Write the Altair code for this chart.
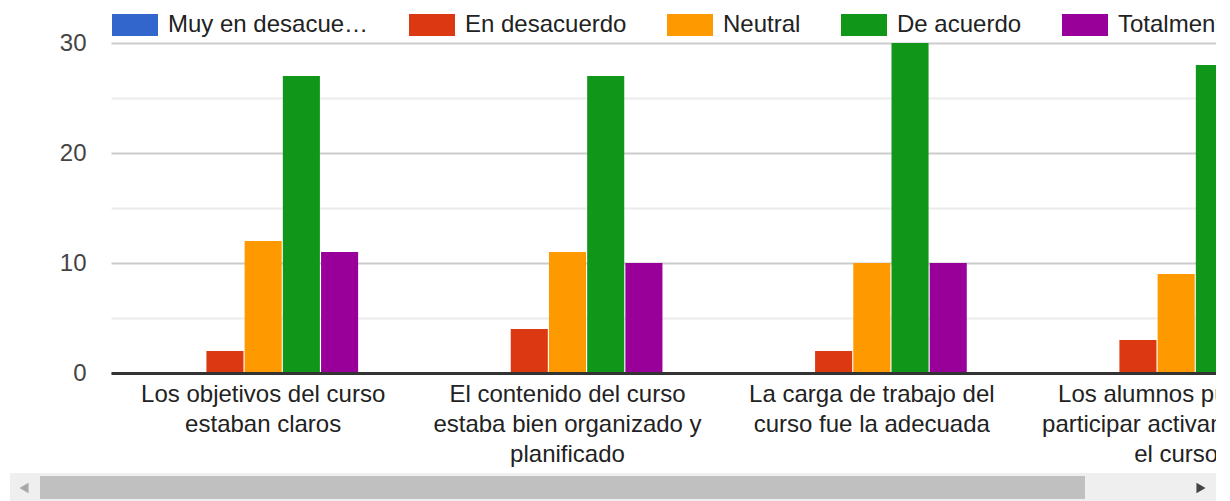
import json
import altair as alt
import pandas as pd

questions = [
    "Los objetivos del curso estaban claros",
    "El contenido del curso estaba bien organizado y planificado",
    "La carga de trabajo del curso fue la adecuada",
    "Los alumnos pudieron participar activamente en el curso",
]
question_lines = [
    ["Los objetivos del curso", "estaban claros"],
    ["El contenido del curso", "estaba bien organizado y", "planificado"],
    ["La carga de trabajo del", "curso fue la adecuada"],
    ["Los alumnos pudieron", "participar activamente en", "el curso"],
]
series = ["Muy en desacuerdo", "En desacuerdo", "Neutral", "De acuerdo", "Totalmente de acuerdo"]
colors = ["#3366cc", "#dc3912", "#ff9900", "#109618", "#990099"]

muy_en_desacuerdo = [0, 0, 0, 0]
en_desacuerdo = [2, 4, 2, 3]
neutral = [12, 11, 10, 9]
de_acuerdo = [27, 27, 30, 28]
totalmente_de_acuerdo = [11, 10, 10, 10]

y_ticks = [0, 5, 10, 15, 20, 25, 30]

values_by_series = [muy_en_desacuerdo, en_desacuerdo, neutral, de_acuerdo, totalmente_de_acuerdo]
rows = []
for s, vals in zip(series, values_by_series):
    for q, v in zip(questions, vals):
        rows.append({"pregunta": q, "respuesta": s, "valor": v})
df = pd.DataFrame(rows)

# multi-line axis labels
expr = "''"
for q, lines in reversed(list(zip(questions, question_lines))):
    expr = f"datum.value == {json.dumps(q)} ? {json.dumps(lines)} : ({expr})"

FONT = "Liberation Sans"
STEP = 304.33
plot_w = 1105
plot_h = 330

bars = alt.Chart(df).mark_bar().encode(
    x=alt.X(
        "pregunta:N",
        sort=questions,
        title=None,
        scale=alt.Scale(range=[0, STEP * len(questions)], paddingInner=0.376, paddingOuter=0.188),
        axis=alt.Axis(
            labelExpr=expr,
            labelAngle=0,
            labelAlign="center",
            labelBaseline="top",
            labelPadding=9,
            labelLineHeight=30,
            labelFontSize=24,
            labelFont=FONT,
            labelColor="#222222",
            labelLimit=500,
            labelOverlap=False,
            ticks=False,
            domain=True,
            domainColor="#333333",
            domainWidth=3,
            grid=False,
            zindex=1,
        ),
    ),
    xOffset=alt.XOffset("respuesta:N", sort=series, scale=alt.Scale(paddingInner=0.03, paddingOuter=0)),
    y=alt.Y(
        "valor:Q",
        title=None,
        scale=alt.Scale(domain=[0, 30], nice=False),
        axis=alt.Axis(
            values=y_ticks,
            labelExpr="datum.value % 10 == 0 ? datum.label : ''",
            labelFontSize=24,
            labelFont=FONT,
            labelColor="#444444",
            labelPadding=25,
            ticks=False,
            domain=False,
            grid=True,
            gridWidth=2,
            gridColor={"condition": {"test": "datum.value % 10 == 0", "value": "#cccccc"}, "value": "#ebebeb"},
        ),
    ),
    color=alt.Color(
        "respuesta:N",
        sort=series,
        scale=alt.Scale(domain=series, range=colors),
        legend=alt.Legend(
            title=None,
            orient="none",
            legendX=1,
            legendY=-41,
            direction="horizontal",
            symbolType="M-1,-0.478L1,-0.478L1,0.478L-1,0.478Z",
            symbolSize=2116,
            symbolStrokeWidth=0,
            labelFontSize=24,
            labelFont=FONT,
            labelColor="#222222",
            labelOffset=10,
            labelLimit=204,
            columnPadding=40,
            labelBaseline="middle",
        ),
    ),
)

one = pd.DataFrame({"k": [0]})
track = alt.Chart(one).mark_rect(color="#efefef").encode(
    x=alt.value(-101), x2=alt.value(1105), y=alt.value(430), y2=alt.value(458)
)
thumb = alt.Chart(one).mark_rect(color="#c0c0c0").encode(
    x=alt.value(-71), x2=alt.value(974), y=alt.value(433), y2=alt.value(456)
)
left_arrow = alt.Chart(one).mark_point(shape="triangle-left", filled=True, color="#a8a8a8", size=110, opacity=1).encode(
    x=alt.value(-87), y=alt.value(445)
)
right_arrow = alt.Chart(one).mark_point(shape="triangle-right", filled=True, color="#444444", size=110, opacity=1).encode(
    x=alt.value(1090), y=alt.value(445)
)

chart = alt.layer(bars, track, thumb, left_arrow, right_arrow).properties(
    width=plot_w,
    height=plot_h,
    background="white",
    autosize=alt.AutoSizeParams(type="none"),
    padding={"left": 103, "right": 0, "top": 35, "bottom": 128},
).configure_view(stroke="transparent", strokeWidth=0)

chart.save("out.html", embed_options={"renderer": "svg", "actions": False})
